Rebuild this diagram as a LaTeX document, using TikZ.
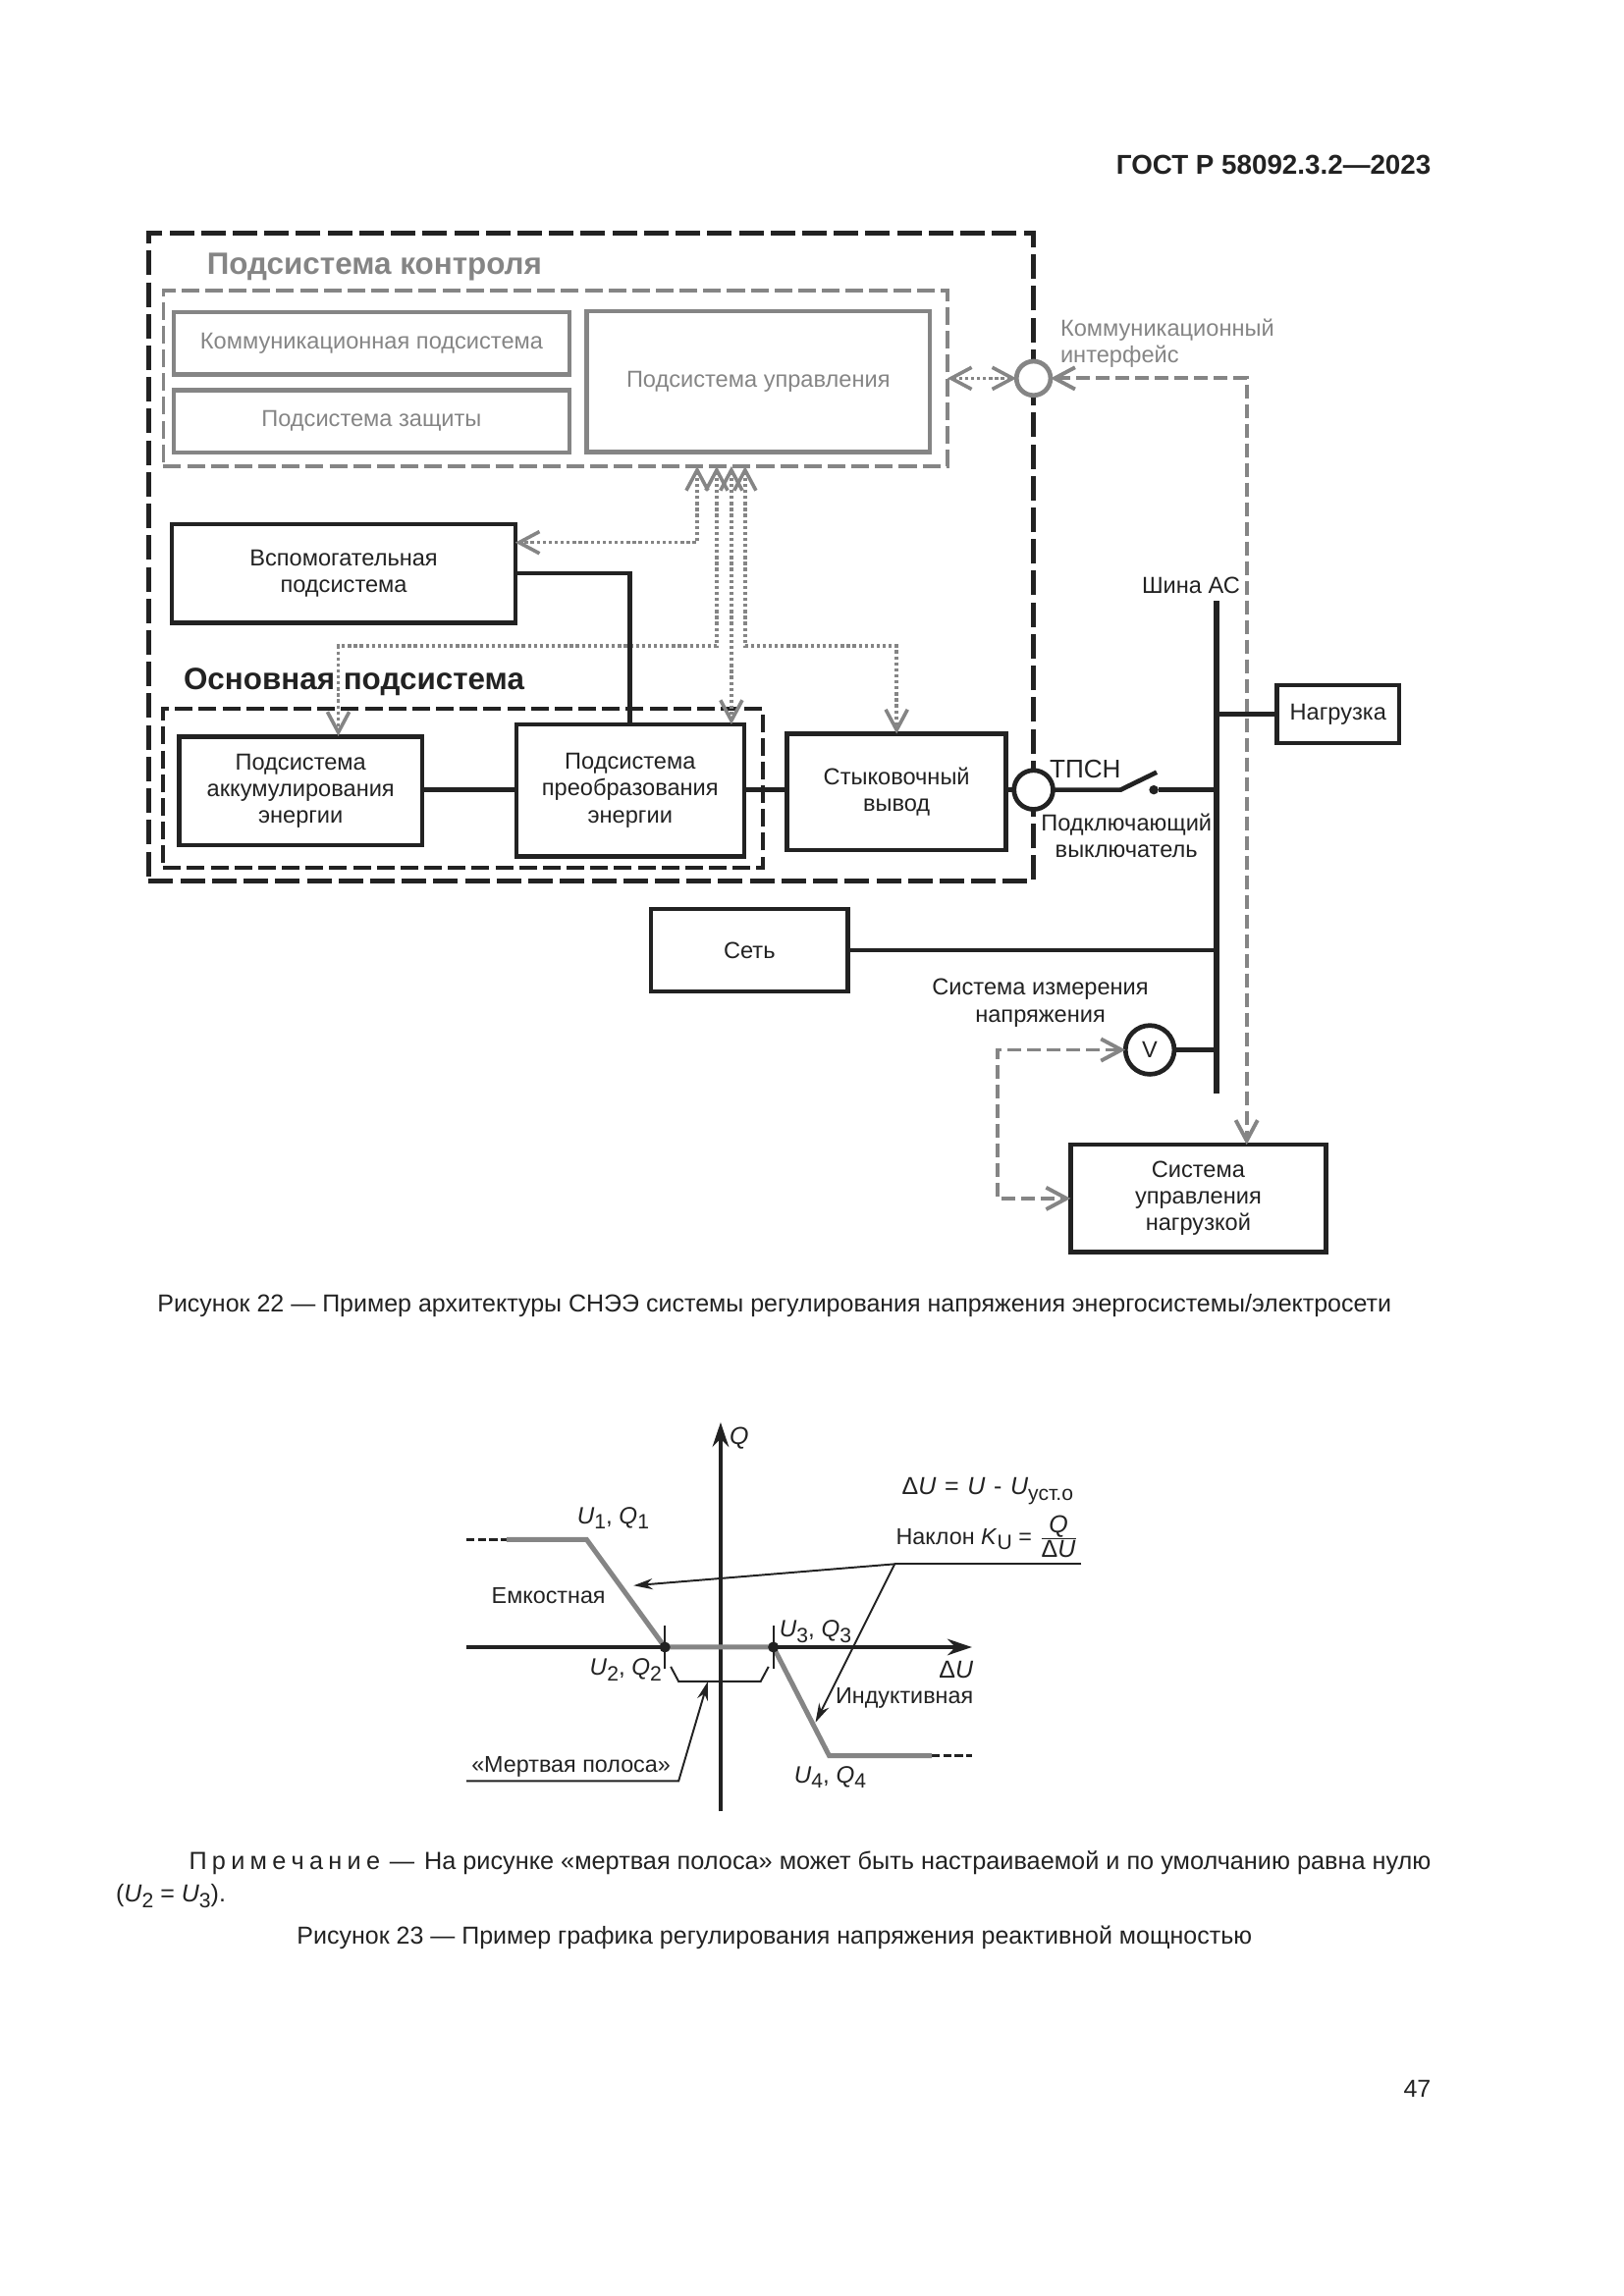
\documentclass[tikz,border=0pt]{standalone}
\usepackage{fontspec}
\setmainfont{Liberation Sans}
\usetikzlibrary{arrows.meta}
\definecolor{inkblack}{HTML}{222222}
\definecolor{inkgrey}{HTML}{858585}
\newcommand{\lowsub}[1]{\raisebox{-.45ex}{\fontsize{7.6pt}{8pt}\selectfont #1}}
\newcommand{\diaglab}[1]{\textit{U}\lowsub{#1}, \textit{Q}\lowsub{#1}}
\tikzset{
  txt/.style={font=\fontsize{8.5pt}{9.8pt}\selectfont,text=inkblack,align=center,inner sep=0pt},
  pagetxt/.style={font=\fontsize{9pt}{11pt}\selectfont,text=inkblack,inner sep=0pt},
  charttxt/.style={font=\fontsize{8.4pt}{10pt}\selectfont,text=inkblack,inner sep=0pt},
  block/.style={rectangle,draw=inkblack,line width=1.6pt,outer sep=0pt,txt},
  greyblock/.style={rectangle,draw=inkgrey,line width=1.6pt,outer sep=0pt,txt,text=inkgrey},
  outerframe/.style={rectangle,draw=inkblack,line width=1.8pt,outer sep=0pt,dash pattern=on 9pt off 2.6pt},
  mainframe/.style={rectangle,draw=inkblack,line width=1.3pt,outer sep=0pt,dash pattern=on 6.5pt off 2.2pt},
  ctrlframe/.style={rectangle,draw=inkgrey,line width=1.3pt,outer sep=0pt,dash pattern=on 6.5pt off 2.2pt},
  port/.style={circle,fill=white,line width=1.7pt,outer sep=0pt,inner sep=0pt},
  conn/.style={draw=inkblack,line width=1.7pt},
  dotarrow/.style={draw=inkgrey,line width=1.3pt,dash pattern=on 1.2pt off 1pt},
  dasharrow/.style={draw=inkgrey,line width=1.4pt,dash pattern=on 5pt off 2.2pt},
  leader/.style={draw=inkblack,line width=.7pt},
  chartaxis/.style={draw=inkblack,line width=1.2pt},
  chartcurve/.style={draw=inkgrey,line width=1.8pt},
  >={Straight Barb[length=7.5pt,width=8pt]}
}
\begin{document}
\begin{tikzpicture}[x=0.3585pt,y=-0.3585pt]
  \useasboundingbox (0,0) rectangle (1660.9,2348.8);
  \node[pagetxt,anchor=east,font=\fontsize{10pt}{11pt}\selectfont\bfseries] (gost) at (1464,169) {ГОСТ Р 58092.3.2—2023};

  \node[outerframe,minimum width=324.4pt,minimum height=237.8pt] (outer) at (604.5,569.7) {};
  \node[ctrlframe,minimum width=287.5pt,minimum height=64.5pt] (ctrlgroup) at (568,387) {};
  \node[mainframe,minimum width=219.8pt,minimum height=58.4pt] (maingroup) at (473.5,806.5) {};

  \node[txt,text=inkgrey,font=\fontsize{11.3pt}{12pt}\selectfont\bfseries] (ctrltitle) at (383,273) {Подсистема контроля};
  \node[txt,font=\fontsize{11.3pt}{12pt}\selectfont\bfseries] (maintitle) at (362,698) {Основная подсистема};

  \node[greyblock,minimum width=145pt,minimum height=22.9pt] (comm) at (380,351) {Коммуникационная подсистема};
  \node[greyblock,minimum width=145pt,minimum height=22.9pt] (prot) at (380,431) {Подсистема защиты};
  \node[greyblock,minimum width=125.9pt,minimum height=51.6pt] (ctrl) at (775.5,390.5) {Подсистема управления};
  \node[block,minimum width=125.9pt,minimum height=36.2pt] (aux) at (351.5,586.5) {Вспомогательная\\подсистема};
  \node[block,minimum width=89.2pt,minimum height=39.8pt] (accum) at (307.5,809) {Подсистема\\аккумулирования\\энергии};
  \node[block,minimum width=83.5pt,minimum height=48.4pt] (conv) at (644.5,808.5) {Подсистема\\преобразования\\энергии};
  \node[block,minimum width=80.3pt,minimum height=42.6pt] (dock) at (917,810) {Стыковочный\\вывод};
  \node[block,minimum width=72.1pt,minimum height=30.1pt] (grid) at (766.5,972) {Сеть};
  \node[block,minimum width=44.8pt,minimum height=21.1pt] (load) at (1368.5,730.5) {Нагрузка};
  \node[block,minimum width=93.6pt,minimum height=39.4pt] (sys) at (1225.5,1226) {Система\\управления\\нагрузкой};

  \node[port,draw=inkgrey,minimum size=12.5pt] (commif) at (1057,387) {};
  \node[port,draw=inkblack,minimum size=14.3pt] (tpsn) at (1057,808) {};
  \node[port,draw=inkblack,minimum size=17.9pt,txt] (volt) at (1176,1074) {V};

  \coordinate (bustop) at (1244,615);
  \coordinate (busbot) at (1244,1119);
  \coordinate (swa) at (1146,808);
  \coordinate (swb) at (1183,790);
  \coordinate (cA) at (713,477);
  \coordinate (cB) at (733,477);
  \coordinate (cC) at (748,477);
  \coordinate (cD) at (762,477);
  \coordinate (auxin) at (527,555);
  \coordinate (accjog) at (346,661);
  \coordinate (accin) at (346,753);
  \coordinate (convin) at (748,741);
  \coordinate (dockjog) at (917,661);
  \coordinate (sysin) at (1275,1171);
  \coordinate (vleft) at (1020,1150);
  \node[circle,fill=inkblack,minimum size=3.4pt,inner sep=0pt] (swdot) at (1180,808) {};

  \draw[dotarrow,<->] (ctrlgroup.east) -- (commif.west);
  \draw[dotarrow,<->] (cA) |- (auxin);
  \draw[dotarrow,<->] (cB) |- (accjog) -- (accin);
  \draw[dotarrow,<->] (cC) -- (convin);
  \draw[dotarrow,<->] (cD) |- (dockjog) -- (dock.north);
  \draw[dasharrow,<->] (commif.east) -| (sysin);
  \draw[dasharrow,<->] (volt.west) -| (vleft) |- (sys.west);

  \draw[conn] (aux.east) -| (conv.north);
  \draw[conn] (accum.east |- tpsn) -- (conv.west |- tpsn);
  \draw[conn] (conv.east |- tpsn) -- (dock.west |- tpsn);
  \draw[conn] (dock.east |- tpsn) -- (tpsn.west);
  \draw[conn] (tpsn.east) -- (swa) -- (swb);
  \draw[conn] (swdot) -- (swdot -| bustop);
  \draw[conn] (grid.east) -- (grid.east -| bustop);
  \draw[conn] (volt.east) -- (volt.east -| bustop);
  \draw[conn,line width=2pt] (load.west) -- (load.west -| bustop);
  \draw[conn,line width=2.3pt] (bustop) -- (busbot);

  \node[txt,text=inkgrey,align=left,anchor=west] (commlab) at (1084,351) {Коммуникационный\\интерфейс};
  \node[txt] (buslab) at (1218,599) {Шина АС};
  \node[txt,font=\fontsize{9.4pt}{11pt}\selectfont] (tpsnlab) at (1110,787) {ТПСН};
  \node[txt] (switchlab) at (1152,855) {Подключающий\\выключатель};
  \node[txt] (voltlab) at (1064,1026) {Система измерения\\напряжения};

  \node[pagetxt] (cap22) at (792,1336) {Рисунок 22 — Пример архитектуры СНЭЭ системы регулирования напряжения энергосистемы/электросети};

  \coordinate (qtop) at (737,1455);
  \coordinate (qbot) at (737,1853);
  \coordinate (xleft) at (477,1685);
  \coordinate (xright) at (994,1685);
  \coordinate (p0) at (477,1575);
  \coordinate (p1) at (518,1575);
  \coordinate (p2) at (600,1575);
  \coordinate (p3) at (680,1685);
  \coordinate (p4) at (791,1685);
  \coordinate (p5) at (848,1796);
  \coordinate (p6) at (953,1796);
  \coordinate (p7) at (994,1796);
  \coordinate (bra) at (686,1705);
  \coordinate (brb) at (694,1720);
  \coordinate (brc) at (778,1720);
  \coordinate (brd) at (786,1705);
  \coordinate (slopea) at (915,1600);
  \coordinate (slopeb) at (1106,1600);
  \coordinate (slopec) at (648,1622);
  \coordinate (sloped) at (834,1762);
  \coordinate (bandtip) at (724,1720);
  \coordinate (banda) at (694,1822);
  \coordinate (bandb) at (477,1822);

  \draw[chartaxis,-{Stealth[length=9pt,width=6pt]}] (qbot) -- (qtop);
  \draw[chartaxis,-{Stealth[length=9pt,width=6pt]}] (xleft) -- (xright);
  \draw[chartaxis,dash pattern=on 3pt off 1.2pt] (p0) -- (p1);
  \draw[chartaxis,dash pattern=on 3pt off 1.2pt] (p6) -- (p7);
  \draw[chartcurve] (p1) -- (p2) -- (p3) -- (p4) -- (p5) -- (p6);
  \draw[chartaxis,line width=.8pt] ([yshift=8pt]p3) -- ([yshift=-8pt]p3);
  \draw[chartaxis,line width=.8pt] ([yshift=8pt]p4) -- ([yshift=-8pt]p4);
  \node[circle,fill=inkblack,minimum size=4pt,inner sep=0pt] (dotb) at (p3) {};
  \node[circle,fill=inkblack,minimum size=4pt,inner sep=0pt] (dotc) at (p4) {};
  \draw[leader] (bra) -- (brb) -- (brc) -- (brd);
  \draw[leader] (slopeb) -- (slopea);
  \draw[leader,-{Stealth[length=7pt,width=4pt]}] (slopea) -- (slopec);
  \draw[leader,-{Stealth[length=7pt,width=4pt]}] (slopea) -- (sloped);
  \draw[leader,-{Stealth[length=7pt,width=4pt]}] (bandb) -- (banda) -- (bandtip);

  \node[charttxt,font=\fontsize{9pt}{10pt}\selectfont] (qlab) at (756,1471) {\textit{Q}};
  \node[charttxt,font=\fontsize{9pt}{10pt}\selectfont] (xlab) at (978,1708) {Δ\textit{U}};
  \node[charttxt,font=\fontsize{8.7pt}{10pt}\selectfont] (u1lab) at (627,1553) {\diaglab{1}};
  \node[charttxt,font=\fontsize{8.7pt}{10pt}\selectfont] (u2lab) at (640,1708) {\diaglab{2}};
  \node[charttxt,font=\fontsize{8.7pt}{10pt}\selectfont] (u3lab) at (834,1669) {\diaglab{3}};
  \node[charttxt,font=\fontsize{8.7pt}{10pt}\selectfont] (u4lab) at (849,1818) {\diaglab{4}};
  \node[charttxt] (caplab) at (561,1632) {Емкостная};
  \node[charttxt] (indlab) at (925,1737) {Индуктивная};
  \node[charttxt] (bandlab) at (584,1807) {«Мертвая полоса»};
  \node[charttxt,font=\fontsize{9pt}{10pt}\selectfont] (dulab) at (1010,1525) {Δ\textit{U}\hspace{3.1pt}=\hspace{3.1pt}\textit{U}\hspace{3.1pt}-\hspace{3.1pt}\textit{U}\lowsub{уст.о}};
  \node[charttxt] (slopelab) at (1010,1572) {Наклон \textit{K}\lowsub{U} = $\hbox{\fontsize{9pt}{10pt}\selectfont\textit{Q}}\over\hbox{\fontsize{9pt}{10pt}\selectfont Δ\textit{U}}$};

  \node[pagetxt,anchor=east,font=\fontsize{9.1pt}{11pt}\selectfont] (note) at (1464,1906) {{\spaceskip=1.9pt П р и м е ч а н и е}\hspace{1pt} — \hspace{1pt}На рисунке «мертвая полоса» может быть настраиваемой и по умолчанию равна нулю};
  \node[pagetxt,anchor=west] (noteb) at (118,1940) {(\textit{U}\lowsub{2} = \textit{U}\lowsub{3}).};
  \node[pagetxt] (cap23) at (792,1982) {Рисунок 23 — Пример графика регулирования напряжения реактивной мощностью};
  \node[pagetxt,anchor=east] (pageno) at (1464,2137) {47};
\end{tikzpicture}
\end{document}
